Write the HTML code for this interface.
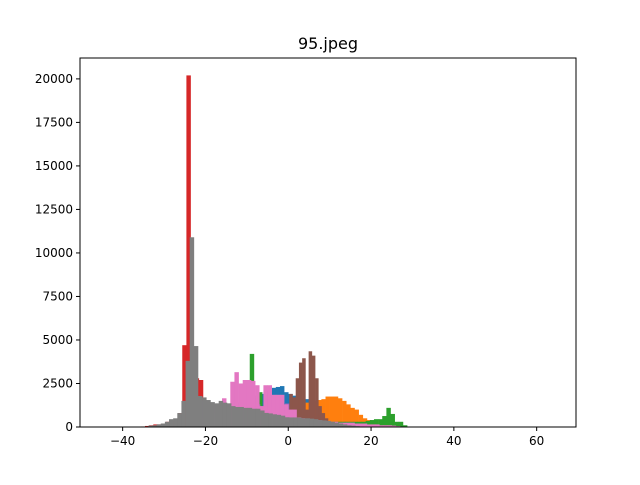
<!DOCTYPE html>
<html><head><meta charset="utf-8"><style>
body{margin:0;background:#fff;font-family:"Liberation Sans","DejaVu Sans",sans-serif}
</style></head><body>
<svg id="chart" width="640" height="480" xmlns="http://www.w3.org/2000/svg">
<rect width="640" height="480" fill="#fff"/>
<text x="328" y="49" font-size="16" text-anchor="middle" font-family="DejaVu Sans, sans-serif">95.jpeg</text>
<g id="bars"></g>
<rect x="80" y="58" width="496" height="369" fill="none" stroke="#000" stroke-width="1"/>
<g id="axes"></g>
</svg>
<script>
const xTicks=[-40,-20,0,20,40,60];
const yTicks=[0,2500,5000,7500,10000,12500,15000,17500,20000];
const seriesNames=["blue","orange","green","red","purple","brown","pink","gray"];
const seriesColors=["#1f77b4","#ff7f0e","#2ca02c","#d62728","#9467bd","#8c564b","#e377c2","#7f7f7f"];
const blueStart=-12, blueVals=[1400,1500,1600,1700,1800,1900,2000,2100,2250,2300,2350,2000,1900,1800,1700,1650,1600,1400,1200,1000,800,600,400,200,100];
const orangeStart=0, orangeVals=[900,1100,1200,1300,1400,1450,1500,1550,1600,1750,1750,1750,1650,1500,1300,1100,1000,700,500,400,250,150,100,50];
const greenStart=-9.3, greenVals=[4200,1500,2000,1200,1000,900,800,700,600,600,500,500,450,400,400,350,350,300,300,300,300,300,300,300,300,300,300,300,350,400,450,450,630,1100,750,300,300,100];
const redStart=-35.6, redVals=[30,60,100,150,150,200,300,350,450,800,4700,20200,3000,2800,2700,600,300,200,100];
const purpleStart=-23.8, purpleVals=[1200,1550,1500,1400,1300,1300,1300,1250,1200,1200,1200,1150,1150,1100,1400,1350,1300,1200,1100,1100,1000,900,900,1350,1300,1200,1100,1000,900,700,500,300,200,100];
const brownStart=0.24, brownWidth=0.78, brownVals=[1900,1700,2800,3700,3950,1000,4350,4100,2800,1200,800,500,300,150];
const pinkStart=-23, pinkVals=[300,400,500,600,700,800,900,1650,1300,2600,3150,2500,2700,2700,2650,2400,1200,2400,2400,1850,1850,1850,1300,1000,1000,550,500,450,450,400,400,350,350,300,300,250,250,250,250,200,200,200,150,150,150,100,100,100,80,50];
const grayStart=-33.8, grayVals=[80,100,150,200,300,450,500,800,1500,3800,10900,4650,1780,1700,1550,1430,1360,1500,1400,1360,1200,1150,1150,1100,1100,1050,1050,950,810,780,730,700,650,560,550,550,540,500,500,480,450,400,380,350,300,250,200,150,100,80,50,30];
const series=[[blueStart,1,blueVals],[orangeStart,1,orangeVals],[greenStart,1,greenVals],[redStart,1,redVals],[purpleStart,1,purpleVals],[brownStart,brownWidth,brownVals],[pinkStart,1,pinkVals],[grayStart,1,grayVals]];
const NS="http://www.w3.org/2000/svg";
const L=80,R=576,T=58,B=427,xMin=-50.3,xMax=69.5,yMax=21200;
function sx(v){return L+(v-xMin)/(xMax-xMin)*(R-L);}
function sy(v){return B-v/yMax*(B-T);}
const bars=document.getElementById('bars');
series.forEach((s,si)=>{
  const g=document.createElementNS(NS,'g');
  
  
  s[2].forEach((v,i)=>{
    const x0=sx(s[0]+i*s[1]),x1=sx(s[0]+(i+1)*s[1]);
    const r=document.createElementNS(NS,'rect');
    
    
    r.setAttribute('x',x0);r.setAttribute('width',x1-x0+0.3);
    r.setAttribute('y',sy(v));r.setAttribute('height',B-sy(v));
    r.setAttribute('fill',seriesColors[si]);
    g.appendChild(r);
  });
  bars.appendChild(g);
});
const ax=document.getElementById('axes');
xTicks.forEach(t=>{
  const x=sx(t);
  const l=document.createElementNS(NS,'line');
  
  
  l.setAttribute('x1',x);l.setAttribute('x2',x);l.setAttribute('y1',B);l.setAttribute('y2',B+4);l.setAttribute('stroke','#000');
  ax.appendChild(l);
  const tx=document.createElementNS(NS,'text');
  
  
  tx.setAttribute('x',x);tx.setAttribute('y',B+18);tx.setAttribute('font-size','12');tx.setAttribute('text-anchor','middle');tx.setAttribute('font-family','DejaVu Sans, sans-serif');
  tx.textContent=t<0?'\u2212'+(-t):String(t);
  ax.appendChild(tx);
});
yTicks.forEach(t=>{
  const y=sy(t);
  const l=document.createElementNS(NS,'line');
  
  
  l.setAttribute('x1',L-4);l.setAttribute('x2',L);l.setAttribute('y1',y);l.setAttribute('y2',y);l.setAttribute('stroke','#000');
  ax.appendChild(l);
  const tx=document.createElementNS(NS,'text');
  
  
  tx.setAttribute('x',L-7);tx.setAttribute('y',y+4);tx.setAttribute('font-size','12');tx.setAttribute('text-anchor','end');tx.setAttribute('font-family','DejaVu Sans, sans-serif');
  tx.textContent=String(t);
  ax.appendChild(tx);
});
</script>
</body></html>
